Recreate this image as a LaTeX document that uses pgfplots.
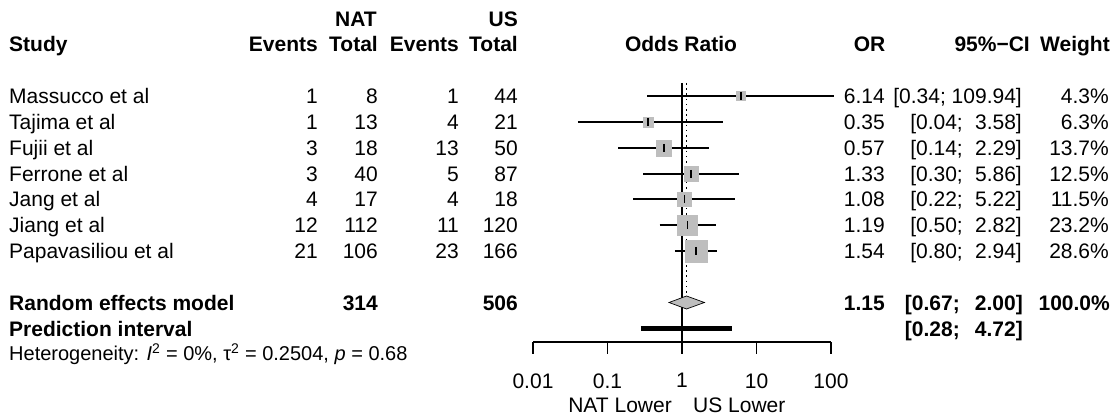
\documentclass[border=0pt]{standalone}
\usepackage{fontspec}
\setmainfont{Liberation Sans}
\usepackage{pgfplots}
\usepackage{pgfplotstable}
\pgfplotsset{compat=1.18}

\definecolor{sqgray}{RGB}{190,190,190}
\newcommand\fs{\fontsize{21}{25}\selectfont}

% one row per study: vertical position (pt, measured downwards, negated),
% odds ratio, 95% limits and weight in percent
\pgfplotstableread{
study y or lo hi w
1 -96 6.14 0.34 109.94 4.3
2 -122 0.35 0.04 3.58 6.3
3 -148 0.57 0.14 2.29 13.7
4 -174 1.33 0.30 5.86 12.5
5 -199 1.08 0.22 5.22 11.5
6 -225 1.19 0.50 2.82 23.2
7 -251 1.54 0.80 2.94 28.6
}\studies

% text of one study row: baseline, name, NAT events/total, US events/total, OR, weight
\newcommand\studyrow[8]{%
  \node[anchor=base west] at (9,#1) {#2};
  \node[anchor=base east] at (318,#1) {#3};
  \node[anchor=base east] at (378,#1) {#4};
  \node[anchor=base east] at (459,#1) {#5};
  \node[anchor=base east] at (518,#1) {#6};
  \node[anchor=base east] at (885,#1) {#7};
  \node[anchor=base east] at (1109,#1) {#8};
}
% confidence interval text, lower and upper part aligned in their columns
\newcommand\cipair[3]{%
  \node[anchor=base east] at (963,#1) {[#2;};
  \node[anchor=base east] at (1022,#1) {#3]};
}

\tikzset{ci/.style={black, line width=1.8pt}}

\begin{document}
\begin{tikzpicture}
\useasboundingbox (0,0) rectangle (1117pt,417pt);

\begin{axis}[
  at={(533pt,75pt)}, anchor=south west,
  scale only axis, width=298pt, height=259pt,
  xmode=log, xmin=0.01, xmax=100, ymin=-342, ymax=-83,
  axis x line*=bottom, axis y line=none,
  xtick={0.01,0.1,1,10,100}, xticklabels={0.01,0.1,1,10,100},
  xminorticks=false,
  xtick align=outside, major tick length=12pt,
  every tick/.style={black, line width=1.5pt},
  axis line style={black, line width=1.5pt},
  tick label style={font=\fs},
  xticklabel style={yshift=-16pt},
  clip=false,
]
% line of no effect and pooled estimate
\addplot[black, line width=1.5pt] coordinates {(1,-83) (1,-342)};
\addplot[black, line width=1.3pt, dash pattern=on 1.6pt off 3.6pt] coordinates {(1.15,-83) (1.15,-296)};

% study squares, area proportional to weight
\addplot[scatter, only marks, mark=square*,
  point meta=explicit,
  visualization depends on={2.085*sqrt(\thisrow{w}) \as \msize},
  scatter/use mapped color={draw=sqgray, fill=sqgray},
  scatter/@pre marker code/.append style={/tikz/mark size=\msize},
] table[x=or, y=y, meta=w] \studies;

% confidence intervals
\addplot[ci] coordinates {(0.34,-96) (109.94,-96)};
\addplot[ci] coordinates {(0.04,-122) (3.58,-122)};
\addplot[ci] coordinates {(0.14,-148) (2.29,-148)};
\addplot[ci] coordinates {(0.30,-174) (5.86,-174)};
\addplot[ci] coordinates {(0.22,-199) (5.22,-199)};
\addplot[ci] coordinates {(0.50,-225) (2.82,-225)};
\addplot[ci] coordinates {(0.80,-251) (2.94,-251)};

% point estimates
\addplot[only marks, mark=|, mark size=4.2pt, mark options={black, line width=1.6pt}]
  table[x=or, y=y] \studies;

% random effects model
\addplot[fill=sqgray, draw=black, line width=0.7pt]
  coordinates {(0.67,-302.5) (1.15,-296) (2.00,-302.5) (1.15,-309)} -- cycle;

% prediction interval
\addplot[black, line width=5pt] coordinates {(0.28,-329) (4.72,-329)};
\end{axis}

\begin{scope}[x=1pt, y=-1pt, yshift=417pt, every node/.style={font=\fs, inner sep=0pt}]
% column headings
\node[anchor=base east] at (377,26.7) {\bfseries NAT};
\node[anchor=base east] at (518,26.7) {\bfseries US};
\node[anchor=base west] at (9,51.7) {\bfseries Study};
\node[anchor=base east] at (318,51.7) {\bfseries Events};
\node[anchor=base east] at (378,51.7) {\bfseries Total};
\node[anchor=base east] at (459,51.7) {\bfseries Events};
\node[anchor=base east] at (518,51.7) {\bfseries Total};
\node[anchor=base] at (681,51.7) {\bfseries Odds Ratio};
\node[anchor=base east] at (885.5,51.7) {\bfseries OR};
\node[anchor=base east] at (1030,51.7) {\bfseries 95\%−CI};
\node[anchor=base east] at (1110,51.7) {\bfseries Weight};

% studies
\studyrow{103.7}{Massucco et al}{1}{8}{1}{44}{6.14}{4.3\%}
\node[anchor=base east] at (1022,103.7) {[0.34; 109.94]};
\studyrow{129.5}{Tajima et al}{1}{13}{4}{21}{0.35}{6.3\%}
\cipair{129.5}{0.04}{3.58}
\studyrow{155.3}{Fujii et al}{3}{18}{13}{50}{0.57}{13.7\%}
\cipair{155.3}{0.14}{2.29}
\studyrow{181.1}{Ferrone et al}{3}{40}{5}{87}{1.33}{12.5\%}
\cipair{181.1}{0.30}{5.86}
\studyrow{206.9}{Jang et al}{4}{17}{4}{18}{1.08}{11.5\%}
\cipair{206.9}{0.22}{5.22}
\studyrow{232.7}{Jiang et al}{12}{112}{11}{120}{1.19}{23.2\%}
\cipair{232.7}{0.50}{2.82}
\studyrow{258.4}{Papavasiliou et al}{21}{106}{23}{166}{1.54}{28.6\%}
\cipair{258.4}{0.80}{2.94}

% pooled results
\begingroup\bfseries
\node[anchor=base west] at (9,310.5) {Random effects model};
\node[anchor=base east] at (378,310.5) {314};
\node[anchor=base east] at (518,310.5) {506};
\node[anchor=base east] at (885,310.5) {1.15};
\node[anchor=base east] at (960,310.5) {[0.67;};
\node[anchor=base east] at (1023,310.5) {2.00]};
\node[anchor=base east] at (1110,310.5) {100.0\%};
\node[anchor=base west] at (9,336.7) {Prediction interval};
\node[anchor=base east] at (960,336.7) {[0.28;};
\node[anchor=base east] at (1023,336.7) {4.72]};
\endgroup
\node[anchor=base west, font=\fontsize{20}{24}\selectfont] at (9,361)
  {Heterogeneity: \textit{I}\textsuperscript{2} = 0\%, τ\textsuperscript{2} = 0.2504, \textit{p} = 0.68};

% direction labels under the axis
\node[anchor=base east] at (672,412.3) {NAT Lower};
\node[anchor=base west] at (693,412.3) {US Lower};
\end{scope}
\end{tikzpicture}
\end{document}
